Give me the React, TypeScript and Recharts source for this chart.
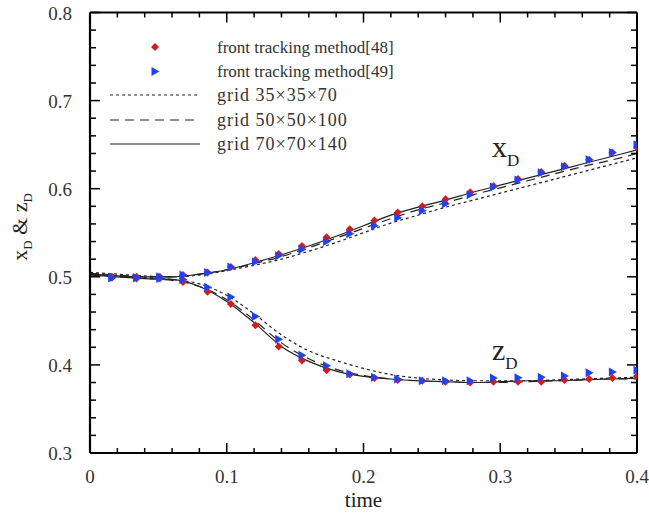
import React from 'react';
import { ComposedChart, Line, Scatter, XAxis, YAxis, ReferenceDot } from 'recharts';

// line sampling times
const tGrid = [0, 0.02, 0.04, 0.06, 0.08, 0.1, 0.12, 0.14, 0.16, 0.18, 0.2, 0.22, 0.24, 0.26, 0.28, 0.3, 0.32, 0.34, 0.36, 0.38, 0.4];

// x_D for three grids
const xD35 = [0.505, 0.503, 0.501, 0.500, 0.502, 0.507, 0.513, 0.520, 0.529, 0.539, 0.550, 0.561, 0.570, 0.579, 0.587, 0.595, 0.603, 0.611, 0.619, 0.627, 0.635];
const xD50 = [0.504, 0.502, 0.500, 0.500, 0.503, 0.508, 0.515, 0.523, 0.533, 0.544, 0.555, 0.566, 0.576, 0.584, 0.593, 0.601, 0.609, 0.617, 0.625, 0.632, 0.640];
const xD70 = [0.503, 0.501, 0.500, 0.500, 0.503, 0.508, 0.516, 0.525, 0.535, 0.546, 0.558, 0.570, 0.579, 0.587, 0.596, 0.604, 0.612, 0.620, 0.628, 0.636, 0.644];

// z_D for three grids
const zD35 = [0.504, 0.501, 0.499, 0.497, 0.492, 0.479, 0.458, 0.434, 0.416, 0.405, 0.396, 0.389, 0.385, 0.383, 0.382, 0.382, 0.382, 0.383, 0.384, 0.385, 0.386];
const zD50 = [0.503, 0.500, 0.498, 0.496, 0.489, 0.474, 0.451, 0.425, 0.407, 0.395, 0.388, 0.384, 0.382, 0.381, 0.380, 0.380, 0.381, 0.382, 0.383, 0.384, 0.384];
const zD70 = [0.502, 0.500, 0.498, 0.497, 0.489, 0.472, 0.448, 0.421, 0.404, 0.393, 0.387, 0.384, 0.382, 0.381, 0.380, 0.381, 0.382, 0.382, 0.383, 0.384, 0.385];

// reference marker times
const tMarks = [0.016, 0.034, 0.051, 0.068, 0.086, 0.103, 0.121, 0.138, 0.155, 0.173, 0.19, 0.208, 0.225, 0.243, 0.26, 0.278, 0.295, 0.313, 0.33, 0.347, 0.365, 0.382, 0.4];

// front tracking method [48]
const xD48 = [0.500, 0.500, 0.500, 0.502, 0.505, 0.511, 0.519, 0.526, 0.535, 0.545, 0.554, 0.564, 0.573, 0.580, 0.588, 0.596, 0.603, 0.611, 0.619, 0.626, 0.633, 0.641, 0.647];
const zD48 = [0.499, 0.498, 0.498, 0.494, 0.483, 0.469, 0.445, 0.421, 0.405, 0.394, 0.389, 0.385, 0.383, 0.382, 0.381, 0.380, 0.381, 0.381, 0.381, 0.383, 0.384, 0.385, 0.387];

// front tracking method [49]
const xD49 = [0.499, 0.499, 0.500, 0.502, 0.505, 0.511, 0.517, 0.524, 0.531, 0.540, 0.549, 0.558, 0.567, 0.575, 0.583, 0.593, 0.602, 0.610, 0.618, 0.625, 0.633, 0.641, 0.650];
const zD49 = [0.499, 0.499, 0.498, 0.497, 0.488, 0.477, 0.455, 0.429, 0.411, 0.399, 0.390, 0.386, 0.384, 0.382, 0.382, 0.382, 0.385, 0.3855, 0.386, 0.3875, 0.391, 0.392, 0.394];

const xTicks = [0, 0.02, 0.04, 0.06, 0.08, 0.1, 0.12, 0.14, 0.16, 0.18, 0.2, 0.22, 0.24, 0.26, 0.28, 0.3, 0.32, 0.34, 0.36, 0.38, 0.4];
const yTicks = [0.3, 0.32, 0.34, 0.36, 0.38, 0.4, 0.42, 0.44, 0.46, 0.48, 0.5, 0.52, 0.54, 0.56, 0.58, 0.6, 0.62, 0.64, 0.66, 0.68, 0.7, 0.72, 0.74, 0.76, 0.78, 0.8];

const legendLabels = ['front tracking method[48]', 'front tracking method[49]', 'grid 35\u00d735\u00d770', 'grid 50\u00d750\u00d7100', 'grid 70\u00d770\u00d7140'];

const FONT = '"Liberation Serif", "Times New Roman", serif';
const RED = '#d21c1c';
const BLUE = '#2241f2';
const LINE = '#222';
const TEXT = '#333';

const toSeries = (ts: number[], vs: number[]) => ts.map((t, i) => ({ t, v: vs[i] }));

const isMajor = (v: number) => Math.abs(v * 10 - Math.round(v * 10)) < 1e-6;
const fmt = (v: number) => (Math.abs(v) < 1e-9 ? '0' : (Math.round(v * 10) / 10).toFixed(1));

const BottomTick = (p: any) => {
  const { x, y, payload } = p;
  const m = isMajor(payload.value);
  return (
    <g>
      <line x1={x} x2={x} y1={y} y2={y - (m ? 10 : 5)} stroke="#000" strokeWidth={1.5} />
      {m && (
        <text x={x} y={y + 30} textAnchor="middle" fontFamily={FONT} fontSize={19} fill={TEXT}>
          {fmt(payload.value)}
        </text>
      )}
    </g>
  );
};
const TopTick = (p: any) => {
  const { x, y, payload } = p;
  const m = isMajor(payload.value);
  return <line x1={x} x2={x} y1={y} y2={y + (m ? 10 : 5)} stroke="#000" strokeWidth={1.5} />;
};
const LeftTick = (p: any) => {
  const { x, y, payload } = p;
  const m = isMajor(payload.value);
  return (
    <g>
      <line x1={x} x2={x + (m ? 10 : 6)} y1={y} y2={y} stroke="#000" strokeWidth={1.5} />
      {m && (
        <text x={x - 18} y={y + 7} textAnchor="end" fontFamily={FONT} fontSize={19} fill={TEXT}>
          {fmt(payload.value)}
        </text>
      )}
    </g>
  );
};
const RightTick = (p: any) => {
  const { x, y, payload } = p;
  const m = isMajor(payload.value);
  return <line x1={x} x2={x - (m ? 10 : 6)} y1={y} y2={y} stroke="#000" strokeWidth={1.5} />;
};

const Diamond = (p: any) => {
  const { cx, cy } = p;
  if (cx == null || cy == null) return null;
  const r = 4;
  return <polygon points={`${cx},${cy - r} ${cx + r},${cy} ${cx},${cy + r} ${cx - r},${cy}`} fill={RED} />;
};
const TriRight = (p: any) => {
  const { cx, cy } = p;
  if (cx == null || cy == null) return null;
  return <polygon points={`${cx - 3.5},${cy - 4.5} ${cx + 4.5},${cy} ${cx - 3.5},${cy + 4.5}`} fill={BLUE} />;
};

const subLabel = (main: string, sub: string) => (props: any) => {
  const vb = props.viewBox || {};
  return (
    <text x={vb.x} y={vb.y} fontFamily={FONT} fill="#222">
      <tspan fontSize={30}>{main}</tspan>
      <tspan fontSize={17} dy={9}>{sub}</tspan>
    </text>
  );
};

const YLabel = (props: any) => {
  const vb = props.viewBox || {};
  const x = vb.x - 62;
  const y = 227;
  return (
    <text x={x} y={y} transform={`rotate(-90 ${x} ${y})`} textAnchor="middle" fontFamily={FONT} fill="#222">
      <tspan fontSize={22}>x</tspan>
      <tspan fontSize={13} dy={5}>D</tspan>
      <tspan fontSize={22} dy={-5}> &amp; z</tspan>
      <tspan fontSize={13} dy={5}>D</tspan>
    </text>
  );
};
const XLabel = (props: any) => {
  const vb = props.viewBox || {};
  return (
    <text x={vb.x + vb.width / 2} y={vb.y + 54} textAnchor="middle" fontFamily={FONT} fontSize={21} fill="#222">
      time
    </text>
  );
};

const Legend = () => {
  const rows = [47, 71, 95, 120, 144];
  return (
    <svg width={649} height={522} style={{ position: 'absolute', left: 0, top: 0, pointerEvents: 'none' }}>
      <polygon points="155,43 159,47 155,51 151,47" fill={RED} />
      <polygon points="151.5,67 159.5,71.5 151.5,76" fill={BLUE} />
      <line x1={110} x2={200} y1={rows[2]} y2={rows[2]} stroke={LINE} strokeWidth={1.2} strokeDasharray="3 3" />
      <line x1={110} x2={200} y1={rows[3]} y2={rows[3]} stroke={LINE} strokeWidth={1.2} strokeDasharray="9 6" />
      <line x1={110} x2={200} y1={rows[4]} y2={rows[4]} stroke={LINE} strokeWidth={1.2} />
      {legendLabels.map((s, i) => (
        <text key={s} x={217} y={rows[i] + 6} fontFamily={FONT} fontSize={i < 2 ? 17 : 18} letterSpacing={i < 2 ? 0 : 1} fill={TEXT}>
          {s}
        </text>
      ))}
    </svg>
  );
};

export default function App() {
  const lines = [
    { key: 'x35', d: toSeries(tGrid, xD35), dash: '3 3' },
    { key: 'x50', d: toSeries(tGrid, xD50), dash: '9 6' },
    { key: 'x70', d: toSeries(tGrid, xD70), dash: undefined },
    { key: 'z35', d: toSeries(tGrid, zD35), dash: '3 3' },
    { key: 'z50', d: toSeries(tGrid, zD50), dash: '9 6' },
    { key: 'z70', d: toSeries(tGrid, zD70), dash: undefined },
  ];
  const m48 = [...toSeries(tMarks, xD48), ...toSeries(tMarks, zD48)];
  const m49 = [...toSeries(tMarks, xD49), ...toSeries(tMarks, zD49)];
  return (
    <div style={{ position: 'absolute', left: 0, top: 0, width: 649, height: 522, background: '#fff' }}>
      <ComposedChart width={649} height={522} margin={{ top: 11.5, right: 11, bottom: 68, left: 89 }}>
        <XAxis
          xAxisId="b"
          dataKey="t"
          type="number"
          domain={[0, 0.4]}
          ticks={xTicks}
          interval={0}
          height={1}
          tickSize={0}
          tickMargin={0}
          allowDataOverflow
          axisLine={{ stroke: '#000', strokeWidth: 2 }}
          tick={<BottomTick />}
          label={{ content: XLabel }}
        />
        <XAxis
          xAxisId="top"
          orientation="top"
          dataKey="t"
          type="number"
          domain={[0, 0.4]}
          ticks={xTicks}
          interval={0}
          height={1}
          tickSize={0}
          tickMargin={0}
          allowDataOverflow
          axisLine={{ stroke: '#000', strokeWidth: 2 }}
          tick={<TopTick />}
        />
        <YAxis
          yAxisId="l"
          type="number"
          domain={[0.3, 0.8]}
          ticks={yTicks}
          interval={0}
          width={1}
          tickSize={0}
          tickMargin={0}
          allowDataOverflow
          axisLine={{ stroke: '#000', strokeWidth: 2.2 }}
          tick={<LeftTick />}
          label={{ content: YLabel }}
        />
        <YAxis
          yAxisId="r"
          orientation="right"
          type="number"
          domain={[0.3, 0.8]}
          ticks={yTicks}
          interval={0}
          width={1}
          tickSize={0}
          tickMargin={0}
          allowDataOverflow
          axisLine={{ stroke: '#000', strokeWidth: 2 }}
          tick={<RightTick />}
        />
        {lines.map((l) => (
          <Line
            key={l.key}
            xAxisId="b"
            yAxisId="l"
            data={l.d}
            dataKey="v"
            type="monotone"
            stroke={LINE}
            strokeWidth={1.2}
            strokeDasharray={l.dash}
            dot={false}
            activeDot={false}
            isAnimationActive={false}
          />
        ))}
        <Scatter xAxisId="b" yAxisId="l" data={m48} dataKey="v" shape={<Diamond />} isAnimationActive={false} />
        <Scatter xAxisId="b" yAxisId="l" data={m49} dataKey="v" shape={<TriRight />} isAnimationActive={false} />
        <ReferenceDot xAxisId="b" yAxisId="l" x={0.294} y={0.636} r={0} fill="none" stroke="none" ifOverflow="visible" label={{ content: subLabel('x', 'D') }} />
        <ReferenceDot xAxisId="b" yAxisId="l" x={0.294} y={0.406} r={0} fill="none" stroke="none" ifOverflow="visible" label={{ content: subLabel('z', 'D') }} />
      </ComposedChart>
      <Legend />
    </div>
  );
}
